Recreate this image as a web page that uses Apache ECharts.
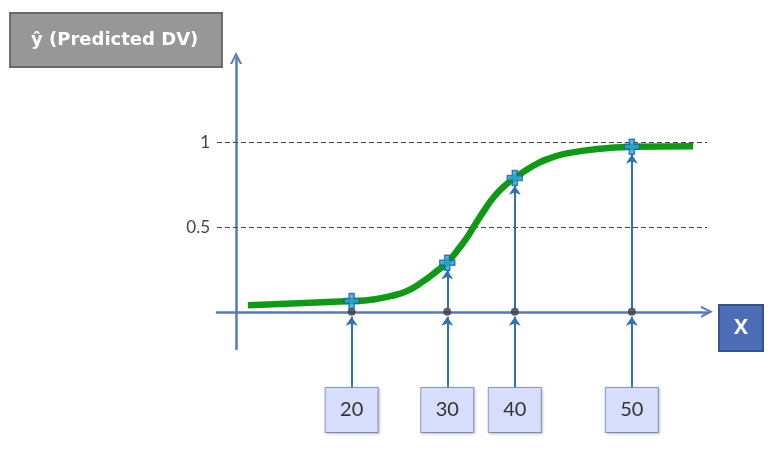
<!DOCTYPE html>
<html>
<head>
<meta charset="utf-8">
<script src="https://cdn.jsdelivr.net/npm/echarts@6/dist/echarts.min.js"></script>
<style>
  html, body { margin: 0; padding: 0; background: #fff; }
  #main { width: 781px; height: 450px; }
</style>
</head>
<body>
<div id="main"></div>
<script>
// sigmoid curve (x in drawing units, y = predicted DV)
var curveX = [2.5, 24.3, 28.9, 32.4, 35.9, 39.4, 42.2, 44.4, 46.4, 48.5, 49.9, 52.0, 54.1, 56.2, 58.6, 61.1, 63.9, 66.0, 69.5, 76.5, 83.2, 96.1];
var curveY = [0.039, 0.063, 0.073, 0.092, 0.122, 0.181, 0.240, 0.290, 0.358, 0.437, 0.500, 0.592, 0.675, 0.738, 0.790, 0.840, 0.884, 0.908, 0.936, 0.964, 0.975, 0.979];

// the four marked X values
var markX = [24.3, 44.4, 58.6, 83.2];
var markY = [0.063, 0.29, 0.79, 0.975];
var xLabels = ['20', '30', '40', '50'];

var yTicks = [0.5, 1];
var refLines = [0.5, 1];

var myChart = echarts.init(document.getElementById('main'));

var axisBlue = '#5878bd';
var arrowBlue = '#2f72b6';
var chevron = 'path://M0,10 L5,0 L10,10 L8.2,10 L5,3.6 L1.8,10 Z';
var plus = 'path://M4,0 L8,0 L8,4 L12,4 L12,8 L8,8 L8,12 L4,12 L4,8 L0,8 L0,4 L4,4 Z';

var curveData = [];
for (var i = 0; i < curveX.length; i++) {
  curveData.push([curveX[i], curveY[i]]);
}

var markData = [];
var dotData = [];
var arrows = [];
for (var i = 0; i < markX.length; i++) {
  markData.push([markX[i], markY[i]]);
  dotData.push([markX[i], 0]);
  // from label box up to the dot on the axis
  arrows.push({ coords: [[markX[i], -0.447], [markX[i], -0.03]] });
  // from the dot up to the point on the curve
  if (markY[i] > 0.15) {
    arrows.push({ coords: [[markX[i], 0.02], [markX[i], markY[i] - 0.045]] });
  }
}

var option = {
  animation: false,
  backgroundColor: '#fff',
  title: [{
    text: 'ŷ (Predicted DV)',
    left: 10,
    top: 13,
    padding: [18, 24, 18, 21],
    backgroundColor: '#979797',
    borderColor: '#6b6b6b',
    borderWidth: 2,
    textStyle: {
      color: '#fff',
      fontSize: 18,
      fontWeight: 'bold',
      fontFamily: 'DejaVu Sans',
      lineHeight: 18
    }
  }, {
    text: 'X',
    left: 719,
    top: 305,
    padding: [12, 15],
    backgroundColor: '#4b6db6',
    borderColor: '#36538f',
    borderWidth: 2,
    textStyle: {
      color: '#fff',
      fontSize: 21,
      fontWeight: 'bold',
      fontFamily: 'Open Sans',
      lineHeight: 22
    }
  }],
  grid: {
    left: 217,
    right: 74,
    top: 58,
    bottom: 101,
    outerBoundsMode: 'none'
  },
  xAxis: {
    type: 'value',
    min: -4,
    max: 99,
    splitLine: { show: false },
    axisTick: { show: false },
    axisLine: {
      onZero: true,
      symbol: ['none', chevron],
      symbolSize: [12, 13],
      lineStyle: { color: axisBlue, width: 2.5 }
    },
    axisLabel: {
      customValues: markX,
      formatter: function (v) {
        var k = markX.indexOf(v);
        return k >= 0 ? xLabels[k] : '';
      },
      margin: 39,
      width: 52,
      lineHeight: 22,
      padding: [11, 0, 11, 0],
      align: 'center',
      fontSize: 20,
      fontFamily: 'Lato',
      color: '#333',
      backgroundColor: '#d7defc',
      borderColor: '#8d9cc8',
      borderWidth: 1,
      shadowColor: 'rgba(0,0,0,0.2)',
      shadowBlur: 3,
      shadowOffsetX: 1,
      shadowOffsetY: 1
    }
  },
  yAxis: {
    type: 'value',
    min: -0.22,
    max: 1.5,
    splitLine: { show: false },
    axisTick: { show: false },
    axisLine: {
      onZero: true,
      symbol: ['none', chevron],
      symbolSize: [12, 13],
      lineStyle: { color: axisBlue, width: 2.5 }
    },
    axisLabel: {
      customValues: yTicks,
      formatter: function (v) { return String(v); },
      margin: 7,
      fontSize: 17,
      fontFamily: 'Lato',
      color: '#444'
    }
  },
  series: [{
    name: 'curve',
    type: 'line',
    data: curveData,
    smooth: 0.5,
    showSymbol: false,
    z: 3,
    lineStyle: { color: '#0f9a16', width: 6.5, cap: 'butt' },
    emphasis: { disabled: true },
    markLine: {
      silent: true,
      z: 1,
      symbol: 'none',
      label: { show: false },
      lineStyle: { color: '#444', width: 1.2, type: [5, 3] },
      data: refLines.map(function (v) { return { yAxis: v }; })
    }
  }, {
    name: 'arrows',
    type: 'lines',
    coordinateSystem: 'cartesian2d',
    clip: false,
    silent: true,
    z: 2,
    symbol: ['none', 'arrow'],
    symbolSize: 9,
    lineStyle: { color: arrowBlue, width: 2, opacity: 1, curveness: 0 },
    data: arrows
  }, {
    name: 'dots',
    type: 'scatter',
    data: dotData,
    clip: false,
    symbolSize: 8,
    z: 4,
    itemStyle: { color: '#3b3b3b' },
    emphasis: { disabled: true }
  }, {
    name: 'points',
    type: 'scatter',
    data: markData,
    symbol: plus,
    symbolSize: 15,
    z: 5,
    itemStyle: { color: '#29a9e3', borderColor: '#1d5f9f', borderWidth: 1.5 },
    emphasis: { disabled: true }
  }]
};

option && myChart.setOption(option);
</script>
</body>
</html>
